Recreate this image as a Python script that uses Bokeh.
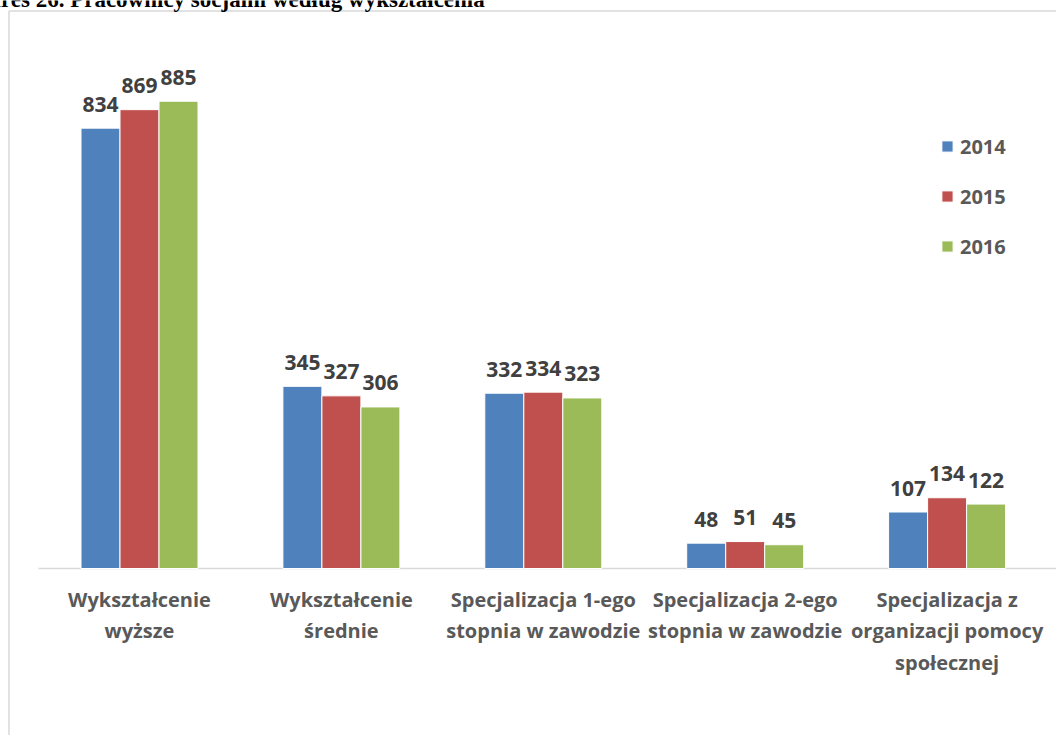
from bokeh.plotting import figure
from bokeh.models import Range1d, Label, Legend, LegendItem, ColumnDataSource
from bokeh.core.properties import value
from bokeh.embed import file_html
from bokeh.resources import INLINE

# ---- data ----
categories = [
    "Wykształcenie\nwyższe",
    "Wykształcenie\nśrednie",
    "Specjalizacja 1-ego\nstopnia w zawodzie",
    "Specjalizacja 2-ego\nstopnia w zawodzie",
    "Specjalizacja z\norganizacji pomocy\nspołecznej",
]
years = ["2014", "2015", "2016"]
v2014 = [834, 345, 332, 48, 107]
v2015 = [869, 327, 334, 51, 134]
v2016 = [885, 306, 323, 45, 122]
title_text = "Wykres 26. Pracownicy socjalni według wykształcenia"

series = [v2014, v2015, v2016]
colors = ["#4f81bd", "#c0504d", "#9bbb59"]

W, H = 1056, 735
# pixel <-> data helpers (frame == canvas)
GX0, GXS = 139.0, 201.9      # first group centre px, px per category
YB, YS = 568.0, 0.528        # baseline px, px per unit


def px_x(px):
    return (px - GX0) / GXS


def px_y(py):
    return (YB - py) / YS


p = figure(width=W, height=H, output_backend="svg", toolbar_location=None,
           x_range=Range1d(px_x(0), px_x(W)), y_range=Range1d(px_y(H), px_y(0)),
           x_axis_location=None, y_axis_location=None, min_border=0)
p.outline_line_color = None
p.grid.visible = False
p.background_fill_color = "white"
p.border_fill_color = "white"

# chart box border (left, top) and the category axis line as separate segments
p.segment(x0=[px_x(8.5), px_x(8.5), px_x(38)],
          y0=[px_y(H + 10), px_y(10.5), 0],
          x1=[px_x(8.5), px_x(W + 10), px_x(W + 10)],
          y1=[px_y(10.5), px_y(10.5), 0],
          line_color="#d9d9d9", line_width=1.5)

bw = 39.0 / GXS
offsets = [-bw, 0.0, bw]
renderers = []
for yr, vals, col, off in zip(years, series, colors, offsets):
    xs = [i + off for i in range(len(categories))]
    src = ColumnDataSource(dict(x=xs, top=vals, lab=[str(v) for v in vals]))
    r = p.vbar(x="x", top="top", bottom=0, width=bw, source=src,
               fill_color=col, line_color="white", line_width=1)
    renderers.append(r)
    p.text(x="x", y="top", text="lab", source=src, text_align="center",
           text_baseline="alphabetic", y_offset=-24,
           text_font=value("Open Sans"), text_font_style="bold",
           text_font_size="21px", text_color="#404040")

# category labels
csrc = ColumnDataSource(dict(x=list(range(len(categories))), y=[0] * len(categories), t=categories))
p.text(x="x", y="y", text="t", source=csrc, text_align="center", text_baseline="top",
       y_offset=17, text_font=value("Open Sans"), text_font_style="bold",
       text_font_size="20px", text_color="#595959", text_line_height=1.18)

# legend
legend = Legend(items=[LegendItem(label=y, renderers=[r]) for y, r in zip(years, renderers)],
                location=(940, H - 261), orientation="vertical",
                glyph_width=14, glyph_height=14, label_height=30, label_standoff=6,
                spacing=20, padding=0, margin=0, border_line_color=None,
                background_fill_alpha=0,
                label_text_font="Open Sans", label_text_font_style="bold",
                label_text_font_size="20px", label_text_color="#595959")
p.add_layout(legend)

# clipped title
p.add_layout(Label(x=-46, y=H + 1, x_units="screen", y_units="screen", text=title_text,
                   text_font="Liberation Serif", text_font_style="bold",
                   text_font_size="23px", text_color="#000000",
                   text_baseline="alphabetic", text_align="left"))

open("out.html", "w").write(file_html(p, INLINE))
